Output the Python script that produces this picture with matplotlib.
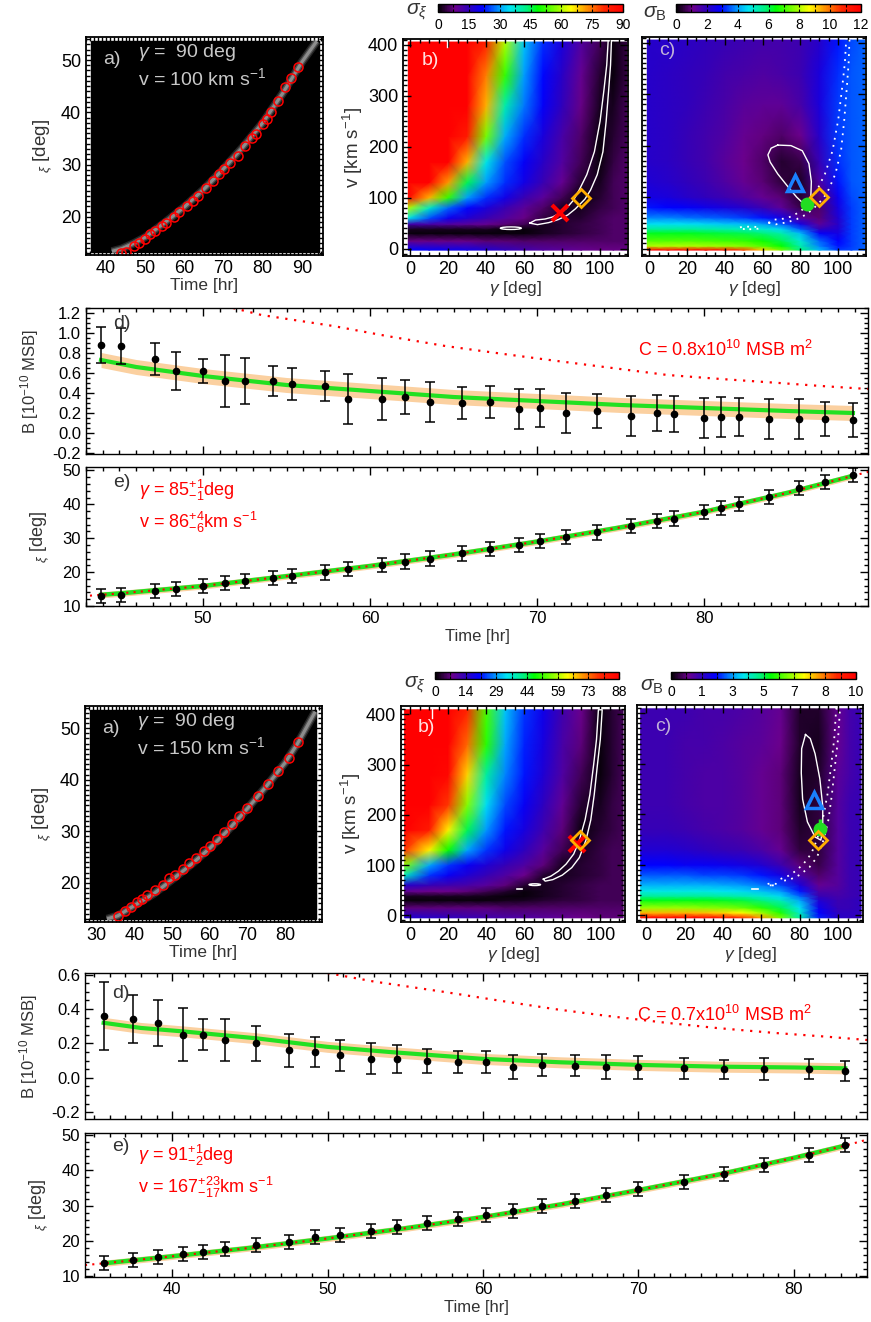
import numpy as np
import matplotlib
matplotlib.use('Agg')
import matplotlib.pyplot as plt
from matplotlib.colors import LinearSegmentedColormap
from matplotlib.ticker import MultipleLocator, FixedLocator, NullFormatter
from matplotlib.patches import Rectangle, Ellipse

plt.rcParams['font.family'] = ['Liberation Sans', 'DejaVu Sans']
plt.rcParams['mathtext.fontset'] = 'custom'
plt.rcParams['mathtext.rm'] = 'Liberation Sans'
plt.rcParams['mathtext.it'] = 'Liberation Sans:italic'
plt.rcParams['mathtext.bf'] = 'Liberation Sans:bold'

# ---------------- run 1 (top block) ----------------
t1 = [43.9, 45.1, 47.1, 48.4, 50.0, 51.3, 52.5, 54.2, 55.3, 57.3, 58.7, 60.7, 62.1, 63.6, 65.5,
      67.2, 68.9, 70.2, 71.7, 73.6, 75.6, 77.2, 78.2, 80.0, 81.0, 82.1, 83.9, 85.7, 87.2, 88.9]
xi1 = [13.0, 13.3, 14.4, 15.0, 15.8, 16.7, 17.3, 18.3, 18.9, 19.9, 21.0, 22.0, 23.1, 24.0, 25.5,
       26.8, 28.1, 29.2, 30.3, 31.7, 33.6, 35.0, 35.8, 37.8, 38.8, 40.1, 42.2, 44.8, 46.5, 48.7]
xi1_err = 2.1
B1 = [0.88, 0.87, 0.74, 0.62, 0.62, 0.52, 0.52, 0.52, 0.49, 0.47, 0.34, 0.34, 0.36, 0.31, 0.30,
      0.31, 0.24, 0.25, 0.20, 0.22, 0.17, 0.20, 0.19, 0.15, 0.16, 0.16, 0.14, 0.14, 0.14, 0.13]
B1_err = [0.18, 0.18, 0.16, 0.19, 0.12, 0.26, 0.23, 0.15, 0.16, 0.15, 0.25, 0.21, 0.17, 0.20, 0.16,
          0.16, 0.20, 0.19, 0.20, 0.17, 0.20, 0.18, 0.18, 0.20, 0.20, 0.19, 0.20, 0.20, 0.17, 0.17]
track1_t = [41.5, 44.0, 47.0, 50.0, 55.0, 60.0, 65.0, 70.0, 75.0, 80.0, 85.0, 90.0, 93.8]
track1_xi = [13.4, 13.9, 14.9, 16.1, 18.9, 21.9, 25.3, 29.2, 33.4, 38.0, 43.5, 49.6, 53.6]
fit1_t = [42.8, 43.9, 45, 50, 55, 60, 65, 70, 75, 80, 85, 88.9, 90]
fit1_xi = [12.9, 13.3, 13.7, 15.9, 18.8, 21.8, 25.2, 29.0, 33.2, 37.8, 43.4, 48.4, 49.8]
fitB1_t = [43.9, 46, 50, 55, 60, 65, 70, 75, 80, 85, 88.9]
fitB1 = [0.73, 0.66, 0.57, 0.48, 0.42, 0.36, 0.32, 0.28, 0.25, 0.22, 0.20]
fitB1_w = 0.075
modB1_t = [51.8, 53.5, 57.8, 61, 64.5, 68, 71.2, 74.5, 77.8, 81, 84.5, 87, 89.8]
modB1 = [1.25, 1.18, 1.07, 0.97, 0.87, 0.79, 0.72, 0.65, 0.58, 0.54, 0.50, 0.47, 0.44]

gam_b1 = [-1, 10, 20, 30, 40, 50, 60, 70, 80, 90, 100, 107, 114]
vel_b1 = [-3, 15, 30, 38, 48, 60, 80, 100, 130, 170, 220, 280, 340, 405]
sig_b1 = [[22, 21, 20, 19, 17, 15, 13, 11, 10, 9, 8, 8, 8],
          [8, 8, 8, 8, 7, 7, 6, 6, 6, 6, 6, 6, 6],
          [1, 1, 1, 1, 1, 1, 1, 2, 3, 4, 5, 6, 6],
          [2, 2, 2, 2, 2, 1, 1, 2, 3, 4, 5, 6, 6],
          [13, 12, 11, 10, 9, 7, 5, 2, 3, 4, 5, 6, 6],
          [36, 26, 20, 17, 14, 11, 8, 4, 3, 3, 5, 6, 6],
          [60, 38, 27, 22, 18, 14, 10, 6, 2, 2, 4, 5, 6],
          [88, 70, 52, 30, 24, 19, 14, 10, 5, 1, 3, 5, 6],
          [90, 90, 72, 45, 30, 24, 19, 14, 9, 3, 2, 5, 6],
          [90, 90, 90, 70, 36, 26, 21, 16, 11, 5, 1, 4, 6],
          [90, 90, 90, 84, 56, 31, 24, 18, 12, 6, 1, 3, 5],
          [90, 90, 90, 90, 70, 40, 28, 21, 15, 8, 2, 2, 5],
          [90, 90, 90, 90, 74, 52, 30, 22, 16, 9, 3, 1, 4],
          [90, 90, 90, 90, 82, 60, 33, 24, 18, 11, 5, 1, 4]]
vel_c1 = [-3, 5, 15, 30, 38, 48, 60, 80, 100, 130, 170, 220, 280, 340, 405]
sig_c1 = [[12, 12, 12, 12, 11.5, 10.5, 9, 7.5, 5.8, 4.3, 3.3, 3.4, 3.6],
          [8.0, 8.0, 8.0, 7.9, 7.8, 7.6, 7.2, 6.5, 5.3, 3.8, 3.0, 3.3, 3.6],
          [7.2, 7.2, 7.2, 7.1, 7.0, 6.9, 6.6, 6.0, 5.0, 3.6, 2.9, 3.3, 3.6],
          [6.3, 6.3, 6.3, 6.2, 6.1, 6.0, 5.8, 5.3, 4.3, 2.8, 2.5, 3.3, 3.6],
          [5.5, 5.5, 5.5, 5.4, 5.3, 5.2, 5.0, 4.5, 3.5, 2.0, 2.3, 3.3, 3.6],
          [4.6, 4.6, 4.6, 4.5, 4.4, 4.3, 4.0, 3.5, 2.5, 1.3, 2.2, 3.3, 3.6],
          [3.8, 3.8, 3.7, 3.6, 3.5, 3.3, 3.0, 2.5, 1.4, 0.9, 2.3, 3.3, 3.6],
          [3.0, 2.9, 2.8, 2.6, 2.4, 2.2, 1.8, 1.3, 0.6, 0.8, 2.5, 3.3, 3.6],
          [2.5, 2.4, 2.2, 2.0, 1.8, 1.5, 1.2, 0.9, 0.4, 0.9, 2.7, 3.4, 3.6],
          [2.3, 2.2, 2.0, 1.8, 1.5, 1.2, 0.9, 0.5, 0.3, 1.5, 3.0, 3.5, 3.6],
          [2.2, 2.1, 1.9, 1.7, 1.4, 1.1, 0.8, 0.4, 0.6, 1.9, 3.2, 3.5, 3.6],
          [2.2, 2.1, 1.9, 1.7, 1.5, 1.2, 1.0, 0.8, 1.1, 2.2, 3.3, 3.5, 3.6],
          [2.2, 2.1, 2.0, 1.8, 1.6, 1.4, 1.3, 1.3, 1.6, 2.4, 3.3, 3.5, 3.6],
          [2.2, 2.1, 2.0, 1.9, 1.7, 1.6, 1.5, 1.6, 1.8, 2.4, 3.2, 3.5, 3.6],
          [2.2, 2.2, 2.1, 2.0, 1.9, 1.8, 1.7, 1.7, 1.8, 2.2, 3.0, 3.4, 3.6]]
loop_b1_g = [63, 66, 71, 75, 78, 82, 86, 89, 93, 97, 100, 102, 103.5, 104.3,
             106, 105.5, 104.5, 103.2, 101.5, 98.5, 95, 92, 87, 83, 78, 73, 67, 63]
loop_b1_v = [50, 56, 58, 62, 68, 78, 95, 115, 145, 190, 250, 310, 360, 410,
             410, 360, 310, 250, 190, 145, 115, 97, 78, 66, 57, 51, 47, 50]
loop_c1_g = [68, 64.5, 62.8, 64, 68, 73, 78, 82, 84, 85.5, 85.8, 84.5, 81, 75, 68]
loop_c1_v = [201, 195, 182, 168, 145, 122, 100, 86, 84, 100, 130, 165, 190, 200, 201]
cross1 = (79, 70)
diam1 = (89.8, 100)
tri1 = (77.3, 128)
dot1 = (83.7, 86)

# ---------------- run 2 (bottom block) ----------------
t2 = [35.6, 37.5, 39.1, 40.7, 42.0, 43.4, 45.4, 47.5, 49.2, 50.8, 52.8, 54.5, 56.4, 58.4, 60.2,
      61.9, 63.8, 65.9, 67.9, 70.0, 72.9, 75.5, 78.1, 81.0, 83.3]
xi2 = [13.6, 14.5, 15.3, 16.2, 16.8, 17.6, 18.7, 19.6, 20.9, 21.6, 22.7, 23.9, 24.9, 26.2, 27.2,
       28.5, 29.8, 31.4, 32.9, 34.6, 36.8, 39.1, 41.7, 44.3, 47.3]
xi2_err = 2.0
B2 = [0.36, 0.34, 0.32, 0.25, 0.25, 0.22, 0.20, 0.16, 0.15, 0.13, 0.11, 0.11, 0.10, 0.09, 0.09,
      0.06, 0.075, 0.07, 0.06, 0.06, 0.055, 0.05, 0.05, 0.05, 0.04]
B2_err = [0.20, 0.14, 0.135, 0.155, 0.09, 0.12, 0.10, 0.095, 0.09, 0.09, 0.09, 0.08, 0.07, 0.065, 0.065,
          0.07, 0.065, 0.06, 0.07, 0.065, 0.06, 0.055, 0.065, 0.06, 0.06]
track2_t = [32.7, 35.6, 40.0, 45.0, 50.0, 55.0, 60.0, 65.0, 70.0, 75.0, 80.0, 83.3, 88.0]
track2_xi = [13.0, 13.6, 15.6, 17.8, 20.6, 23.5, 26.7, 30.3, 34.4, 38.7, 43.3, 47.0, 53.2]
fit2_t = [34.4, 35.6, 40, 45, 50, 55, 60, 65, 70, 75, 80, 83.3, 84.7]
fit2_xi = [13.0, 13.5, 15.5, 17.9, 20.6, 23.5, 26.7, 30.3, 34.4, 38.7, 43.6, 47.1, 48.8]
fitB2_t = [35.6, 38, 40.7, 45.4, 50, 54, 60, 65, 70, 75, 80, 83.3]
fitB2 = [0.32, 0.29, 0.27, 0.23, 0.18, 0.15, 0.11, 0.09, 0.075, 0.065, 0.06, 0.055]
fitB2_w = 0.032
modB2_t = [50, 53, 57.5, 61, 64.6, 68, 71.8, 75, 78.9, 82, 84.7]
modB2 = [0.61, 0.56, 0.50, 0.45, 0.40, 0.36, 0.32, 0.29, 0.26, 0.24, 0.22]

gam_b2 = [-3, 10, 20, 30, 40, 50, 60, 70, 80, 90, 100, 106, 112]
vel_b2 = [-5, 15, 30, 38, 48, 60, 80, 100, 130, 170, 220, 280, 340, 409]
sig_b2 = [[17, 16, 15, 14, 13, 12, 11, 10, 9, 8, 7, 7, 7],
          [7, 7, 7, 7, 7, 6, 6, 6, 6, 6, 6, 6, 6],
          [1, 1, 1, 1, 1, 1.5, 2, 3, 3.5, 4, 5, 5, 5],
          [2, 2, 2, 2, 1.5, 1, 1, 2, 3, 4, 5, 5, 5],
          [9, 8, 8, 7, 5, 3, 1, 2, 3, 4, 5, 5, 5],
          [16, 14, 13, 12, 10, 7, 3, 2, 3, 4, 5, 5, 5],
          [38, 24, 20, 17, 14, 11, 8, 3, 2, 3, 4, 5, 5],
          [56, 30, 24, 20, 17, 14, 11, 7, 2, 3, 4, 5, 5],
          [78, 64, 48, 30, 24, 19, 15, 10, 5, 2, 4, 5, 5],
          [88, 82, 64, 44, 29, 22, 18, 13, 7, 1, 3, 4, 5],
          [88, 88, 78, 56, 34, 25, 20, 15, 9, 3, 2, 4, 5],
          [88, 88, 86, 66, 40, 28, 22, 17, 11, 5, 1, 3, 5],
          [88, 88, 88, 74, 50, 30, 23, 18, 12, 7, 1, 3, 5],
          [88, 88, 88, 80, 52, 32, 24, 19, 13, 8, 1, 3, 5]]
vel_c2 = [-5, 5, 15, 30, 38, 48, 60, 80, 100, 130, 170, 220, 280, 340, 409]
sig_c2 = [[10, 10, 10, 10, 9.6, 9, 8, 6.3, 4.5, 2.6, 1.8, 1.7, 1.7],
          [7.8, 7.8, 7.8, 7.7, 7.5, 7.2, 6.6, 5.6, 4.2, 2.4, 1.7, 1.7, 1.7],
          [6.5, 6.5, 6.5, 6.4, 6.3, 6.1, 5.7, 5.0, 3.9, 2.2, 1.6, 1.6, 1.7],
          [5.3, 5.3, 5.3, 5.3, 5.2, 5.1, 4.8, 4.3, 3.4, 1.9, 1.5, 1.6, 1.7],
          [4.6, 4.6, 4.6, 4.6, 4.5, 4.4, 4.2, 3.8, 3.0, 1.6, 1.4, 1.5, 1.6],
          [4.0, 4.0, 4.0, 4.0, 3.9, 3.8, 3.6, 3.3, 2.5, 1.3, 1.3, 1.5, 1.6],
          [3.5, 3.5, 3.5, 3.5, 3.4, 3.3, 3.1, 2.8, 2.0, 1.0, 1.2, 1.5, 1.6],
          [2.9, 2.9, 2.9, 2.8, 2.8, 2.7, 2.5, 2.1, 1.3, 0.7, 1.2, 1.5, 1.6],
          [2.4, 2.4, 2.3, 2.3, 2.2, 2.1, 1.9, 1.5, 0.8, 0.5, 1.2, 1.5, 1.6],
          [1.9, 1.9, 1.8, 1.7, 1.6, 1.5, 1.3, 1.0, 0.4, 0.4, 1.2, 1.5, 1.6],
          [1.6, 1.6, 1.5, 1.4, 1.3, 1.2, 1.0, 0.8, 0.3, 0.4, 1.2, 1.5, 1.6],
          [1.5, 1.5, 1.4, 1.3, 1.3, 1.2, 1.0, 0.8, 0.2, 0.4, 1.2, 1.5, 1.6],
          [1.5, 1.5, 1.4, 1.3, 1.3, 1.2, 1.0, 0.8, 0.2, 0.3, 1.1, 1.4, 1.6],
          [1.5, 1.5, 1.4, 1.4, 1.3, 1.2, 1.1, 0.9, 0.3, 0.2, 1.0, 1.4, 1.6],
          [1.5, 1.5, 1.5, 1.4, 1.4, 1.3, 1.2, 1.0, 0.3, 0.3, 1.0, 1.4, 1.6]]
loop_b2_g = [70, 74, 78, 82, 86, 89, 92, 94.5, 96.5, 98, 99,
             101, 100, 98.5, 96.8, 95, 92.5, 89, 85, 80, 75, 71, 70]
loop_b2_v = [72, 78, 88, 102, 122, 150, 190, 240, 300, 350, 409,
             409, 350, 300, 240, 190, 150, 115, 95, 80, 71, 68, 72]
loop_c2_g = [83, 81, 80.8, 81.5, 84, 88, 91, 92, 92, 90.5, 88, 85.5, 83]
loop_c2_v = [358, 330, 282, 230, 185, 155, 149, 170, 216, 270, 320, 350, 358]
cross2 = (87.7, 141)
diam2 = (89.5, 150)
tri2 = (87.5, 229)
dot2 = (90.7, 170)

# IDL-like rainbow
rainbow = LinearSegmentedColormap.from_list('idl39', [
    (0.00, (0, 0, 0)), (0.09, (0.42, 0, 0.55)), (0.16, (0.2, 0, 0.72)),
    (0.24, (0, 0, 1.0)), (0.33, (0, 0.6, 1)), (0.39, (0, 0.9, 0.95)),
    (0.48, (0, 0.95, 0.5)), (0.54, (0, 1, 0)), (0.66, (0.65, 1, 0)),
    (0.72, (1, 1, 0)), (0.80, (1, 0.6, 0)), (0.90, (1, 0.15, 0)), (1.00, (1, 0, 0))])

W, H = 871, 1322
fig = plt.figure(figsize=(W / 100, H / 100), dpi=100)


def box(l, t, r, b):
    return fig.add_axes([l / W, 1 - b / H, (r - l) / W, (b - t) / H])


def idl(ax, xmaj, xmin, ymaj, ymin, lw=1.3, size=12):
    ax.xaxis.set_major_locator(MultipleLocator(xmaj))
    ax.xaxis.set_minor_locator(MultipleLocator(xmin))
    ax.yaxis.set_major_locator(MultipleLocator(ymaj))
    ax.yaxis.set_minor_locator(MultipleLocator(ymin))
    ax.tick_params(which='both', direction='in', top=True, right=True, width=1, labelsize=size)
    ax.tick_params(which='major', length=6)
    ax.tick_params(which='minor', length=3)
    for s in ax.spines.values():
        s.set_linewidth(lw)


def panel_a(ax, tt, xx, trt, trx, img, gam_txt, v_txt):
    ax.add_patch(Rectangle((img[0], img[2]), img[1] - img[0], img[3] - img[2], color='black', zorder=0))
    for lw, a in [(6, 0.2), (4, 0.35), (2.2, 0.6)]:
        ax.plot(trt, trx, color='#b4b4b4', lw=lw, alpha=a, solid_capstyle='butt')
    ax.plot(tt, xx, 'o', mfc='none', mec='red', ms=6.5, mew=1.1)
    idl(ax, 10, 1, 10, 1, size=13)
    ax.set_xlabel('Time [hr]', fontsize=12.5, color='#333333', labelpad=1)
    ax.set_ylabel(r'$_\xi$ [deg]', fontsize=13.5, color='#333333', labelpad=5)
    ax.text(0.072, 0.895, 'a)', transform=ax.transAxes, color='#c8c8c8', fontsize=14, va='center')
    ax.text(0.22, 0.93, gam_txt, transform=ax.transAxes, color='#c8c8c8', fontsize=14, va='center')
    ax.text(0.22, 0.81, v_txt, transform=ax.transAxes, color='#c8c8c8', fontsize=14, va='center')


def cbar(mappable, l, t, r, b, vmax, labels, label, lx, ly):
    cax = box(l, t, r, b)
    cb = fig.colorbar(mappable, cax=cax, orientation='horizontal')
    cb.set_ticks(np.linspace(0, vmax, len(labels)))
    cb.set_ticklabels(labels)
    cax.xaxis.set_minor_locator(FixedLocator(np.linspace(0, vmax, 2 * len(labels) - 1)))
    cax.tick_params(which='both', direction='in', top=True, bottom=True, length=2.5, width=0.8,
                    labelsize=10, pad=4)
    cb.outline.set_linewidth(1)
    fig.text(lx / W, 1 - ly / H, label, fontsize=15, ha='center', va='center', color='#333333')


def panel_map(ax, g, v, s, vmax, xlim, ylim):
    m = ax.pcolormesh(g, v, np.array(s), shading='gouraud', cmap=rainbow, vmin=0, vmax=vmax)
    ax.set_xlim(*xlim)
    ax.set_ylim(*ylim)
    idl(ax, 20, 5, 100, 10, size=13)
    ax.set_xlabel(r'$\gamma$ [deg]', fontsize=12.5, color='#333333', labelpad=1)
    return m


def panel_d(ax, tt, bb, be, ft, fb, fw, mt, mb, xlim, ylim, ctxt, dy):
    ax.fill_between(ft, np.array(fb) - fw, np.array(fb) + fw, color='#fbd0a0', lw=0)
    ax.plot(ft, fb, color='#22e022', lw=3)
    ax.plot(mt, mb, color='red', ls=(0, (1, 3)), lw=1.6)
    ax.errorbar(tt, bb, yerr=be, fmt='o', color='black', ms=4.5, capsize=3.5, elinewidth=1.1, capthick=1.1)
    ax.set_xlim(*xlim)
    ax.set_ylim(*ylim)
    idl(ax, 10, 1, 0.2, 0.05, lw=1.0)
    ax.yaxis.set_major_formatter(matplotlib.ticker.FormatStrFormatter('%.1f'))
    ax.xaxis.set_major_formatter(NullFormatter())
    ax.set_ylabel(r'B [10$^{-10}$ MSB]', fontsize=12, color='#333333', labelpad=8)
    ax.text(0.035, dy, 'd)', transform=ax.transAxes, fontsize=14, color='#333333', va='center')
    ax.text(0.706, 0.712, ctxt, transform=ax.transAxes, fontsize=13, color='red', va='center')


def panel_e(ax, tt, xx, xe, ft, fx, xlim, ylim, gtxt, vtxt, ys):
    ft = np.array(ft)
    fx = np.array(fx)
    inside = (ft >= tt[0]) & (ft <= tt[-1])
    ax.fill_between(ft[inside], fx[inside] - 0.9, fx[inside] + 0.9, color='#fbd0a0', lw=0)
    ax.plot(ft[inside], fx[inside], color='#22e022', lw=3.2)
    ax.plot(ft, fx, color='red', ls=(0, (1, 2.5)), lw=1.5)
    ax.errorbar(tt, xx, yerr=xe, fmt='o', color='black', ms=4.5, capsize=3.5, elinewidth=1.1, capthick=1.1)
    ax.set_xlim(*xlim)
    ax.set_ylim(*ylim)
    idl(ax, 10, 1, 10, 2, lw=1.0)
    ax.set_xlabel('Time [hr]', fontsize=12, color='#333333', labelpad=2)
    ax.set_ylabel(r'$_\xi$ [deg]', fontsize=13, color='#333333', labelpad=8)
    ax.text(0.035, ys[0], 'e)', transform=ax.transAxes, fontsize=14, color='#333333', va='center')
    ax.text(0.068, ys[1], gtxt, transform=ax.transAxes, fontsize=13, color='red', va='center')
    ax.text(0.068, ys[2], vtxt, transform=ax.transAxes, fontsize=13, color='red', va='center')


def markers(ax, cross, diam, tri=None, dot=None, dot_err=None):
    if cross is not None:
        ax.plot(*cross, 'x', color='red', ms=11, mew=3)
    if tri is not None:
        ax.plot(*tri, '^', mfc='none', mec='#1a80ff', ms=11, mew=2.5)
    if dot is not None:
        if dot_err is not None:
            ax.errorbar(dot[0], dot[1], yerr=dot_err, color='#22dd22', lw=2.5, capsize=0)
        ax.plot(*dot, 'o', color='#22dd22', ms=9)
    ax.plot(*diam, 'D', mfc='none', mec='#ffae00', ms=9, mew=2)


# ================= top block =================
axa = box(86, 37, 323, 255)
axa.set_xlim(34.9, 95.4)
axa.set_ylim(12.7, 54.4)
panel_a(axa, t1, xi1, track1_t, track1_xi, (36.1, 94.5, 13.3, 53.7),
        r'$\gamma$ =  90 deg', r'v = 100 km s$^{-1}$')

axb = box(403, 39, 628, 256)
mb1 = panel_map(axb, gam_b1, vel_b1, sig_b1, 90, (-3.8, 114.7), (-14.5, 411))
axb.plot(loop_b1_g, loop_b1_v, color='white', lw=1)
axb.add_patch(Ellipse((53, 40), 11, 5, fc='none', ec='white', lw=1))
axb.plot([19.4, 19.4], [396, 411], color='white', lw=1)
markers(axb, cross1, diam1)
axb.set_ylabel(r'v [km s$^{-1}$]', fontsize=13.5, color='#333333', labelpad=2)
axb.text(0.084, 0.9, 'b)', transform=axb.transAxes, fontsize=14, color='#ffe0e0', va='center')
cbar(mb1, 438, 4, 623, 12, 90, ['0', '15', '30', '45', '60', '75', '90'], r'$\sigma_\xi$', 417, 12)

axc = box(642, 37, 866, 256)
mc1 = panel_map(axc, gam_b1, vel_c1, sig_c1, 12, (-3.8, 114.7), (-14.5, 411))
axc.plot(loop_b1_g, loop_b1_v, color='white', lw=1.3, ls=(0, (1, 3)))
axc.add_patch(Ellipse((53, 40), 11, 5, fc='none', ec='white', lw=1.3, ls=(0, (1, 3))))
axc.plot(loop_c1_g, loop_c1_v, color='white', lw=1)
markers(axc, None, diam1, tri1, dot1)
axc.yaxis.set_major_formatter(NullFormatter())
axc.text(0.076, 0.94, 'c)', transform=axc.transAxes, fontsize=14, color='#c0b0d8', va='center')
cbar(mc1, 676, 4, 861, 12, 12, ['0', '2', '4', '6', '8', '10', '12'], r'$\sigma_{\rm B}$', 655, 13)

axd = box(86, 308, 868, 454)
panel_d(axd, t1, B1, B1_err, fitB1_t, fitB1, fitB1_w, modB1_t, modB1, (43.0, 89.8), (-0.21, 1.25),
        r'C = 0.8x10$^{10}$ MSB m$^2$', 0.897)

axe = box(86, 467, 868, 606)
panel_e(axe, t1, xi1, xi1_err, fit1_t, fit1_xi, (43.0, 89.8), (10, 51),
        r'$\gamma$ = 85$^{+1}_{-1}$deg', r'v = 86$^{+4}_{-6}$km s$^{-1}$', (0.892, 0.83, 0.6))

# ================= bottom block =================
axa2 = box(85, 706, 322, 922)
axa2.set_xlim(26.9, 89.8)
axa2.set_ylim(12.4, 54.3)
panel_a(axa2, t2, xi2, track2_t, track2_xi, (28.2, 88.2, 13.0, 53.5),
        r'$\gamma$ =  90 deg', r'v = 150 km s$^{-1}$')

axb2 = box(401, 706, 625, 922)
mb2 = panel_map(axb2, gam_b2, vel_b2, sig_b2, 88, (-4.9, 113), (-13.3, 416.5))
axb2.plot(loop_b2_g, loop_b2_v, color='white', lw=1)
axb2.add_patch(Ellipse((65.5, 61), 6, 3.5, fc='none', ec='white', lw=1))
axb2.plot([56, 59], [53, 53], color='white', lw=1.2)
axb2.plot([11.4, 11.4], [392, 416], color='white', lw=1)
markers(axb2, cross2, diam2)
axb2.set_ylabel(r'v [km s$^{-1}$]', fontsize=13.5, color='#333333', labelpad=2)
axb2.text(0.076, 0.9, 'b)', transform=axb2.transAxes, fontsize=14, color='#ffe0e0', va='center')
cbar(mb2, 435, 672, 619, 679, 88, ['0', '14', '29', '44', '59', '73', '88'], r'$\sigma_\xi$', 415, 685)

axc2 = box(637, 705, 863, 922)
mc2 = panel_map(axc2, gam_b2, vel_c2, sig_c2, 10, (-4.9, 113), (-13.3, 416.5))
axc2.plot(loop_b2_g, loop_b2_v, color='white', lw=1.3, ls=(0, (1, 3)))
axc2.add_patch(Ellipse((65.5, 61), 6, 3.5, fc='none', ec='white', lw=1.3, ls=(0, (1, 3))))
axc2.plot([55, 58], [53, 53], color='white', lw=1.2)
axc2.plot(loop_c2_g, loop_c2_v, color='white', lw=1)
markers(axc2, None, diam2, tri2, dot2, [[10], [20]])
axc2.yaxis.set_major_formatter(NullFormatter())
axc2.text(0.08, 0.9, 'c)', transform=axc2.transAxes, fontsize=14, color='#c0b0d8', va='center')
cbar(mc2, 671, 672, 856, 679, 10, ['0', '1', '3', '5', '7', '8', '10'], r'$\sigma_{\rm B}$', 652, 687)

axd2 = box(85, 973, 867, 1119)
panel_d(axd2, t2, B2, B2_err, fitB2_t, fitB2, fitB2_w, modB2_t, modB2, (34.4, 84.7), (-0.24, 0.61),
        r'C = 0.7x10$^{10}$ MSB m$^2$', 0.863)

axe2 = box(85, 1133, 867, 1277)
panel_e(axe2, t2, xi2, xi2_err, fit2_t, fit2_xi, (34.4, 84.7), (9.6, 50.7),
        r'$\gamma$ = 91$^{+1}_{-2}$deg', r'v = 167$^{+23}_{-17}$km s$^{-1}$', (0.903, 0.845, 0.625))

fig.savefig('out.png', dpi=100)
